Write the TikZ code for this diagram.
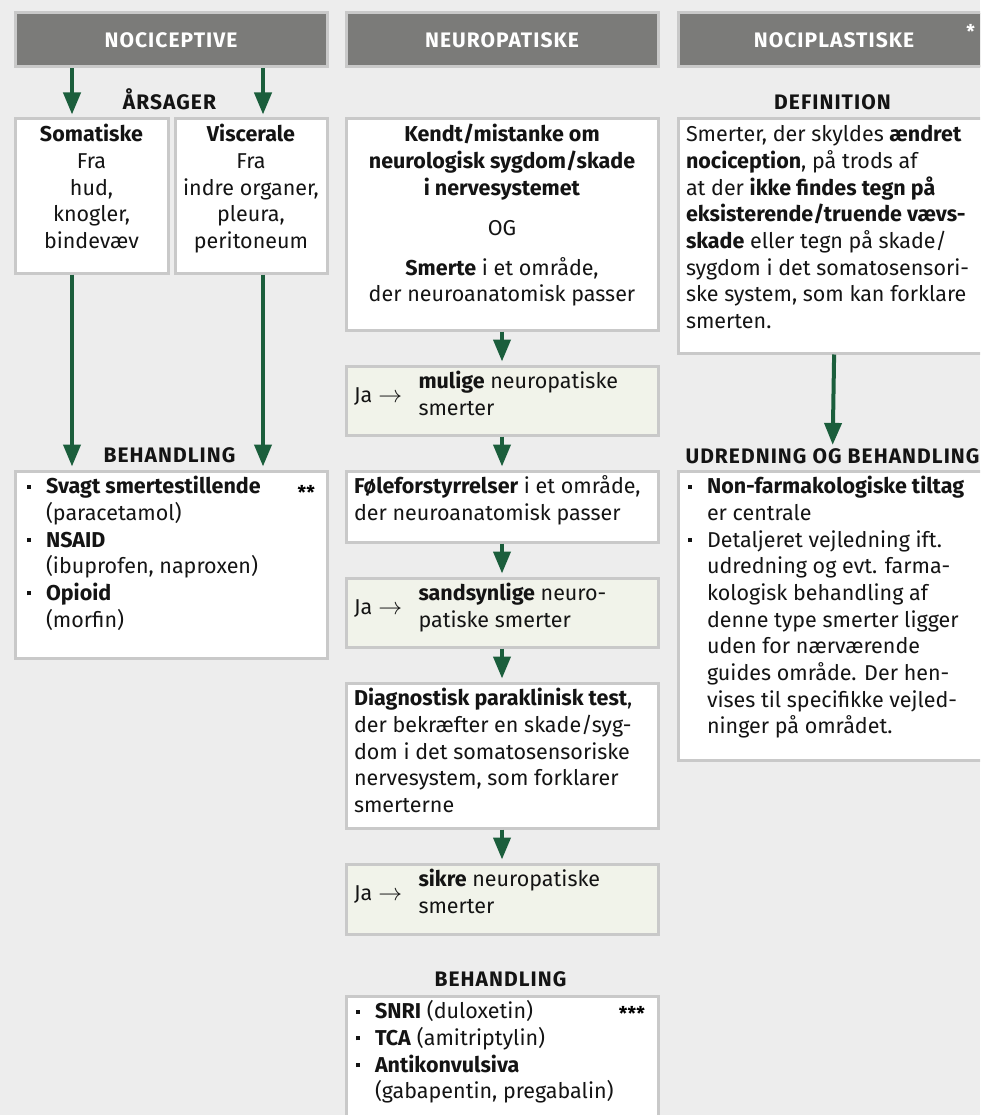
\documentclass[tikz,border=0pt]{standalone}
\usepackage{fontspec}
\setmainfont{Fira Sans}
\usetikzlibrary{arrows.meta}

\definecolor{bggrey}{RGB}{237,237,237}
\definecolor{headgrey}{RGB}{123,123,121}
\definecolor{rimgrey}{RGB}{201,201,201}
\definecolor{arrgreen}{RGB}{27,94,60}
\definecolor{palegreen}{RGB}{241,243,234}
\definecolor{inkblack}{RGB}{20,20,20}

\newcommand{\bodyfont}{\fontsize{21.5}{26.7}\selectfont}
\newcommand{\tagfont}{\fontsize{21}{24}\selectfont\bfseries\addfontfeatures{LetterSpace=5}}
\newcommand{\boxtext}[3][292pt]{\parbox[t][#2][t]{#1}{#3}}
\newcommand{\sqdot}{\raisebox{5pt}{\rule{4pt}{4pt}}}
\newcommand{\itm}{\par\hangindent=21pt\hangafter=1\noindent\makebox[21pt][l]{\hspace{1.5pt}\sqdot}\strut}
\newcommand{\ja}[1]{\raisebox{-13.35pt}{\makebox[64.5pt][l]{Ja\hspace{6pt}\scalebox{1.15}{$\rightarrow$}}}\parbox[t]{228pt}{\raggedright\strut#1}}

\begin{document}
\begin{tikzpicture}[x=1pt,y=-1pt,
  head/.style={draw=rimgrey,line width=3pt,fill=headgrey,text=white,font=\tagfont,minimum width=312pt,minimum height=54pt,anchor=north west,inner sep=0pt},
  box/.style={draw=rimgrey,line width=3pt,fill=white,text=inkblack,font=\bodyfont,inner xsep=10pt,inner ysep=4pt,anchor=north west},
  jabox/.style={box,fill=palegreen},
  tag/.style={text=inkblack,font=\tagfont,anchor=base,inner sep=0pt},
  star/.style={font=\fontsize{19}{22}\selectfont\bfseries,anchor=base east,inner sep=0pt},
  flow/.style={draw=arrgreen,line width=4pt,-{Triangle[width=17pt,length=22pt]},shorten >=3pt}]
\useasboundingbox (0,0) rectangle (980,1115);
\clip (0,0) rectangle (980,1115);
\fill[bggrey] (0,0) rectangle (980,1115);

\node[head] (hdA) at (13.5,11.5) {NOCICEPTIVE};
\node[head] (hdB) at (344.5,11.5) {NEUROPATISKE};
\node[head] (hdC) at (676.5,11.5) {NOCIPLASTISKE};
\node[star,text=white] (starC) at (975,39) {*};

\node[tag] (whyA) at (169.5,110) {ÅRSAGER};
\node[box,inner xsep=5pt] (somat) at (13.5,117.5) {\boxtext[143pt]{146pt}{\centering\strut\textbf{Somatiske}\\Fra\\hud,\\knogler,\\bindevæv}};
\node[box,inner xsep=5pt] (visc) at (173.5,117.5) {\boxtext[142pt]{146pt}{\centering\strut\textbf{Viscerale}\\Fra\\indre organer,\\pleura,\\peritoneum}};

\node[tag] (treatA) at (169.5,462) {BEHANDLING};
\node[box] (behA) at (13.5,469.5) {\boxtext{179pt}{%
  \itm\textbf{Svagt smertestillende}\newline(paracetamol)
  \itm\textbf{NSAID}\newline(ibuprofen, naproxen)
  \itm\textbf{Opioid}\newline(morfin)}};
\node[star] (starA) at (315,499) {**};

\coordinate (pa) at (72,0);
\coordinate (pb) at (263,0);
\draw[flow] (hdA.south -| pa) -- (somat.north -| pa);
\draw[flow] (hdA.south -| pb) -- (visc.north -| pb);
\draw[flow] (somat.south -| pa) -- (behA.north -| pa);
\draw[flow] (visc.south -| pb) -- (behA.north -| pb);

\node[box,inner xsep=8pt] (kendt) at (344.5,117.5) {\boxtext[296pt]{203pt}{\centering\strut\textbf{Kendt/mistanke om}\\\textbf{neurologisk sygdom/skade}\\\textbf{i nervesystemet}\\[13.3pt]OG\\[13.3pt]\textbf{Smerte} i et område,\\der neuroanatomisk passer}};
\node[jabox,inner xsep=8pt] (mulige) at (344.5,364.5) {\boxtext[296pt]{61pt}{\ja{\textbf{mulige} neuropatiske\\smerter}}};
\node[box,inner xsep=8pt] (fole) at (344.5,469.5) {\boxtext[296pt]{63pt}{\raggedright\strut\textbf{Føleforstyrrelser} i et område,\\der neuroanatomisk passer}};
\node[jabox,inner xsep=8pt] (sandsyn) at (344.5,576.5) {\boxtext[296pt]{61pt}{\ja{\textbf{sandsynlige} neuro-\\patiske smerter}}};
\node[box,inner xsep=8pt] (diag) at (344.5,681.5) {\boxtext[296pt]{137pt}{\raggedright\strut\textbf{Diagnostisk paraklinisk test},\\der bekræfter en skade/syg-\\dom i det somatosensoriske\\nervesystem, som forklarer\\smerterne}};
\node[jabox,inner xsep=8pt] (sikre) at (344.5,862.5) {\boxtext[296pt]{62pt}{\ja{\textbf{sikre} neuropatiske\\smerter}}};
\node[tag] (treatB) at (500.5,986) {BEHANDLING};
\node[box,inner xsep=8pt] (behB) at (344.5,994.5) {\boxtext[296pt]{140pt}{%
  \itm\textbf{SNRI} (duloxetin)
  \itm\textbf{TCA} (amitriptylin)
  \itm\textbf{Antikonvulsiva}\newline(gabapentin, pregabalin)}};
\node[star] (starB) at (645,1020) {***};

\draw[flow] (kendt) -- (mulige);
\draw[flow] (mulige) -- (fole);
\draw[flow] (fole) -- (sandsyn);
\draw[flow] (sandsyn) -- (diag);
\draw[flow] (diag) -- (sikre);

\node[tag] (defT) at (832.5,110) {DEFINITION};
\node[box,inner xsep=8pt] (defin) at (676.5,117.5) {\boxtext[300pt]{226pt}{\raggedright\strut Smerter, der skyldes \textbf{ændret}\\\textbf{nociception}, på trods af\\at der \textbf{ikke findes tegn på}\\\textbf{eksisterende/truende vævs-}\\\textbf{skade} eller tegn på skade/\\sygdom i det somatosensori-\\ske system, som kan forklare\\smerten.}};
\node[tag] (udT) at (832.5,463) {UDREDNING OG BEHANDLING};
\node[box,inner xsep=8pt] (udred) at (676.5,469.5) {\boxtext[300pt]{281pt}{%
  \itm\textbf{Non-farmakologiske tiltag}\newline er centrale
  \itm Detaljeret vejledning ift.\newline udredning og evt. farma-\newline kologisk behandling af\newline denne type smerter ligger\newline uden for nærværende\newline guides område. Der hen-\newline vises til specifikke vejled-\newline ninger på området.}};
\draw[flow] (defin) -- (udT);
\end{tikzpicture}
\end{document}
